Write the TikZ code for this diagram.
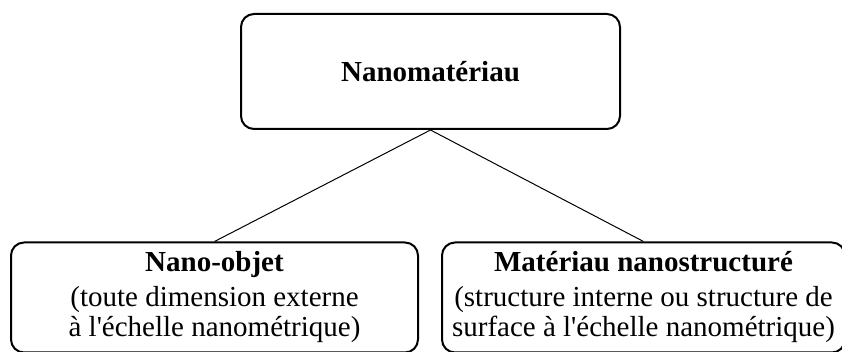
\documentclass[tikz,border=0pt]{standalone}
\usepackage{fontspec}
\setmainfont{Liberation Serif}[Ligatures=TeXOff]
\tikzset{
    catbox/.style={draw,line width=1pt,rounded corners=6.5pt,align=center,
        inner sep=0pt,font=\fontsize{14.5pt}{15pt}\selectfont},
    link/.style={line width=0.5pt}
}
\begin{document}
\begin{tikzpicture}[x=0.5pt,y=-0.5pt]
        \useasboundingbox (0,0) rectangle (842,352);
        \node[catbox,minimum width=189.5pt,minimum height=57.5pt](nanomat) at (430.5,71.5){\textbf{Nanomatériau}};
        \node[catbox,minimum width=203.5pt,minimum height=55pt](nanoobj) at (214.5,297.5){\textbf{Nano-objet}\\[2.5pt]
            (toute dimension externe\\à l'échelle nanométrique)};
        \node[catbox,minimum width=201.5pt,minimum height=55pt](nanostruct) at (643.5,297.5){\textbf{Matériau nanostructuré}\\[2.5pt]
            (structure interne ou structure de\\surface à l'échelle nanométrique)};
        \draw[link](nanomat.south)--(nanoobj.north);
        \draw[link](nanomat.south)--(nanostruct.north);
    \end{tikzpicture}
\end{document}
